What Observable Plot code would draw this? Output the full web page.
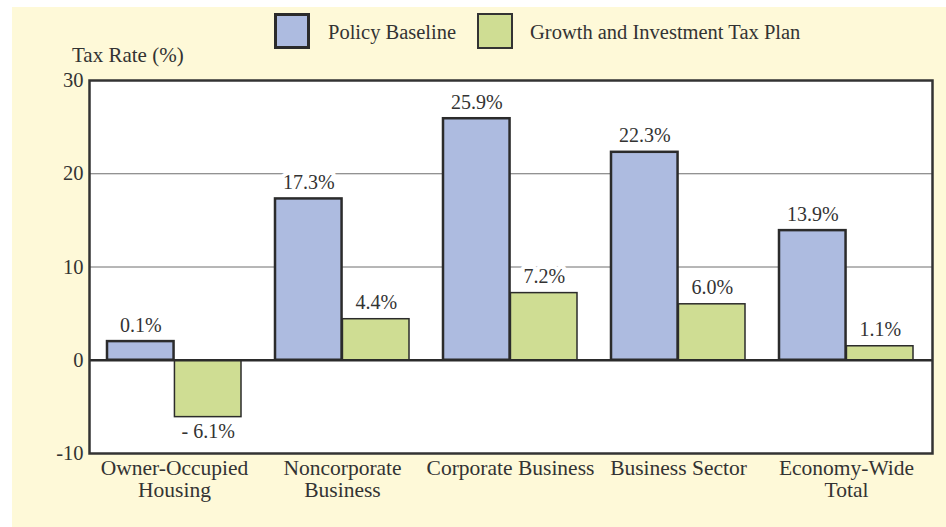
<!DOCTYPE html>
<html>
<head>
<meta charset="utf-8">
<script src="https://cdn.jsdelivr.net/npm/d3@7"></script>
<script src="https://cdn.jsdelivr.net/npm/@observablehq/plot@0.6"></script>
<style>
  html, body { margin: 0; padding: 0; background: #ffffff; }
  #wrap { position: relative; width: 946px; height: 527px; overflow: hidden; font-family: "Liberation Serif", serif; color: #333; }
  #bg { position: absolute; left: 12px; top: 7px; right: 0; bottom: 0; background: #fef9d8; }
  #chart { position: absolute; left: 0; top: 0; }
  .sw { position: absolute; box-sizing: border-box; width: 36px; height: 36px; }
  .lt { position: absolute; font-size: 20.5px; line-height: 24px; white-space: nowrap; }
  #ylab { position: absolute; left: 72px; top: 43px; font-size: 21px; line-height: 24px; white-space: nowrap; }
</style>
</head>
<body>
<div id="wrap">
  <div id="bg"></div>
  <div id="chart"></div>
  <div class="sw" id="sw1" style="left:274px; top:13px; background:#adbbe0; border:3px solid #2b2b2b;"></div>
  <div class="lt" id="lt1" style="left:328px; top:20px;"></div>
  <div class="sw" id="sw2" style="left:477px; top:13px; background:#cfdd93; border:2px solid #333;"></div>
  <div class="lt" id="lt2" style="left:530px; top:20px;"></div>
  <div id="ylab"></div>
</div>
<script>
const categories = ["Owner-Occupied\nHousing", "Noncorporate\nBusiness", "Corporate Business", "Business Sector", "Economy-Wide\nTotal"];
const seriesNames = ["Policy Baseline", "Growth and Investment Tax Plan"];
// bar heights as drawn in the picture
const baselineValues = [2.0, 17.3, 25.9, 22.3, 13.9];
const planValues = [-6.1, 4.4, 7.2, 6.0, 1.5];
// value labels as printed
const baselineLabels = ["0.1%", "17.3%", "25.9%", "22.3%", "13.9%"];
const planLabels = ["- 6.1%", "4.4%", "7.2%", "6.0%", "1.1%"];
const yTicks = [-10, 0, 10, 20, 30];
const yLabel = "Tax Rate (%)";

document.getElementById("lt1").textContent = seriesNames[0];
document.getElementById("lt2").textContent = seriesNames[1];
document.getElementById("ylab").textContent = yLabel;

const baseline = categories.map((c, i) => ({cat: c, v: baselineValues[i], label: baselineLabels[i]}));
const plan = categories.map((c, i) => ({cat: c, v: planValues[i], label: planLabels[i]}));

const W = 946, H = 527, mL = 89, mR = 14, mT = 80, mB = 74;
const pIn = 0.2, pOut = 0.1;
const step = (W - mL - mR) / (categories.length - pIn + 2 * pOut);
const bw = step * (1 - pIn);
const half = bw / 2;

const ink = "#2b2b2b";
const labelStyle = {fill: "#333", fontSize: 20, stroke: "white", strokeWidth: 8, paintOrder: "stroke"};
const chart = Plot.plot({
  width: W, height: H,
  marginLeft: mL, marginRight: mR, marginTop: mT, marginBottom: mB,
  style: {fontFamily: "Liberation Serif, serif", fontSize: "20px", color: "#333", background: "transparent"},
  x: {type: "band", domain: categories, paddingInner: pIn, paddingOuter: pOut, label: null},
  y: {domain: [-10, 30], label: null},
  marks: [
    Plot.frame({fill: "white", stroke: null}),
    Plot.ruleY([10, 20], {stroke: "#6e6e6e", strokeWidth: 1}),
    Plot.text(baseline, {x: "cat", y: "v", text: "label", dx: -half / 2, lineAnchor: "bottom", dy: -10, ...labelStyle}),
    Plot.text(plan.filter(d => d.v >= 0), {x: "cat", y: "v", text: "label", dx: half / 2, lineAnchor: "bottom", dy: -10, ...labelStyle}),
    Plot.text(plan.filter(d => d.v < 0), {x: "cat", y: "v", text: "label", dx: half / 2, lineAnchor: "top", dy: 7, ...labelStyle}),
    Plot.barY(baseline, {x: "cat", y: "v", fill: "#adbbe0", stroke: ink, strokeWidth: 2.5, insetRight: half}),
    Plot.barY(plan, {x: "cat", y: "v", fill: "#cfdd93", stroke: ink, strokeWidth: 1.5, insetLeft: half}),
    Plot.ruleY([0], {stroke: ink, strokeWidth: 2.5}),
    Plot.frame({stroke: "#333", strokeWidth: 2.5}),
    Plot.axisY({ticks: yTicks, tickSize: 0, tickPadding: 6, fontSize: 20.5, label: null, tickFormat: d => d < 0 ? "-" + Math.abs(d) : String(d)}),
    Plot.axisX({tickSize: 0, tickPadding: 5, fontSize: 21.5, lineHeight: 1.05, label: null, lineAnchor: "top"})
  ]
});
document.getElementById("chart").appendChild(chart);
</script>
</body>
</html>
